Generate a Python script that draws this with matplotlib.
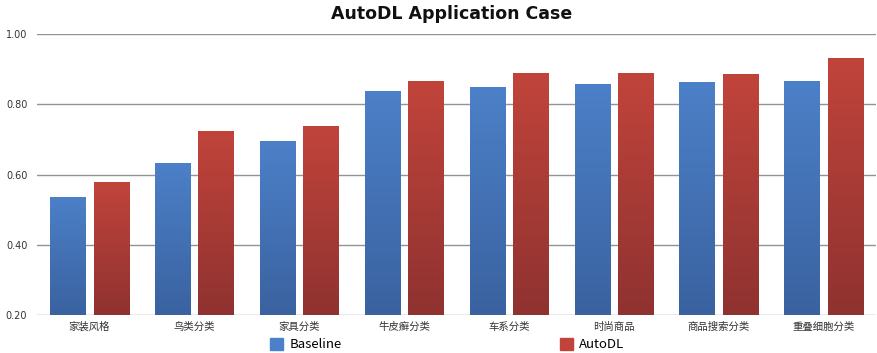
import matplotlib

matplotlib.use("Agg")
import matplotlib.pyplot as plt
import numpy as np
from matplotlib.colors import LinearSegmentedColormap
from matplotlib.patches import Patch

plt.rcParams["font.family"] = ["Noto Sans CJK SC", "DejaVu Sans"]

categories = ["家装风格", "鸟类分类", "家具分类", "牛皮癣分类", "车系分类", "时尚商品", "商品搜索分类", "重叠细胞分类"]
baseline = [0.536, 0.633, 0.695, 0.837, 0.849, 0.858, 0.862, 0.865]
autodl = [0.578, 0.725, 0.738, 0.865, 0.888, 0.888, 0.886, 0.933]
series_names = ["Baseline", "AutoDL"]
y_ticks = [0.20, 0.40, 0.60, 0.80, 1.00]

BLUE_TOP, BLUE_BOTTOM = "#4c80c8", "#3a62a0"
RED_TOP, RED_BOTTOM = "#c1443b", "#8f3230"


def gradient_fill(ax, bars, top, bottom):
    cmap = LinearSegmentedColormap.from_list("grad", [bottom, top])
    grad = np.linspace(0, 1, 256).reshape(-1, 1)
    for bar in bars:
        x0, y0 = bar.get_x(), bar.get_y()
        w, h = bar.get_width(), bar.get_height()
        img = ax.imshow(grad, cmap=cmap, aspect="auto", origin="lower",
                        extent=(x0, x0 + w, y0, y0 + h), zorder=bar.get_zorder() + 0.1)
        img.set_clip_path(bar)


fig = plt.figure(figsize=(8.77, 3.53), dpi=100)
ax = fig.add_axes([0.0422, 0.1076, 0.9567, 0.7961])

x = np.arange(len(categories))
width = 0.335
offset = 0.207
bottom = 0.2
b1 = ax.bar(x - offset, np.array(baseline) - bottom, width, bottom=bottom, color=BLUE_TOP, zorder=2)
b2 = ax.bar(x + offset, np.array(autodl) - bottom, width, bottom=bottom, color=RED_TOP, zorder=2)
gradient_fill(ax, b1, BLUE_TOP, BLUE_BOTTOM)
gradient_fill(ax, b2, RED_TOP, RED_BOTTOM)

ax.set_xlim(-0.5, len(categories) - 0.5)
ax.set_ylim(0.2, 1.0)
ax.set_yticks(y_ticks)
ax.set_yticklabels([f"{v:.2f}" for v in y_ticks], fontsize=7, color="#333333",
                   family=["DejaVu Sans"])
ax.set_xticks(x)
ax.set_xticklabels(categories, fontsize=7.5, color="#333333")
ax.tick_params(axis="both", length=0)
ax.tick_params(axis="y", pad=7)
ax.tick_params(axis="x", pad=5)
ax.yaxis.grid(True, color="#939393", linewidth=1.0, zorder=0)
ax.set_axisbelow(True)
for spine in ax.spines.values():
    spine.set_visible(False)

fig.suptitle("AutoDL Application Case", x=0.515, y=0.985, fontsize=12.5,
             fontweight="bold", family=["DejaVu Sans"], color="#111111")

handles = [Patch(color=BLUE_TOP), Patch(color=RED_TOP)]
fig.legend(handles, series_names, loc="center", bbox_to_anchor=(0.51, 0.024), ncol=2,
           frameon=False, fontsize=9.5, handlelength=1.0, handleheight=1.0,
           handletextpad=0.5, columnspacing=16.5, borderpad=0)

fig.savefig("out.png", dpi=100)
